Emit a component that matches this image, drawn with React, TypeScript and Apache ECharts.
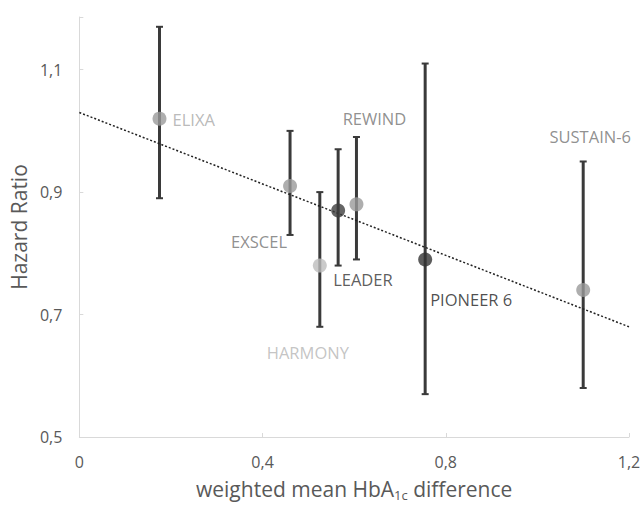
import React, { useEffect, useRef } from "react";
import * as echarts from "echarts";

// Trials: weighted mean HbA1c difference vs hazard ratio (95% CI)
const trials = ["ELIXA", "EXSCEL", "HARMONY", "LEADER", "REWIND", "PIONEER 6", "SUSTAIN-6"];
const hba1cDiff = [0.175, 0.46, 0.525, 0.565, 0.605, 0.755, 1.1];
const hazardRatio = [1.02, 0.91, 0.78, 0.87, 0.88, 0.79, 0.74];
const ciLow = [0.89, 0.83, 0.68, 0.78, 0.79, 0.57, 0.58];
const ciHigh = [1.17, 1.0, 0.9, 0.97, 0.99, 1.11, 0.95];

// Linear trend endpoints
const trendX = [0, 1.2];
const trendY = [1.03, 0.68];

const xTicks = [0, 0.4, 0.8, 1.2];
const yTicks = [0.5, 0.7, 0.9, 1.1];

// Per-trial appearance
const markerColor: Record<string, string> = {
  ELIXA: "#9a9a9a",
  EXSCEL: "#9a9a9a",
  HARMONY: "#bdbdbd",
  LEADER: "#3f3f3f",
  REWIND: "#9a9a9a",
  "PIONEER 6": "#333333",
  "SUSTAIN-6": "#9a9a9a",
};
const labelColor: Record<string, string> = {
  ELIXA: "#a8a8a8",
  EXSCEL: "#737373",
  HARMONY: "#b5b5b5",
  LEADER: "#333333",
  REWIND: "#737373",
  "PIONEER 6": "#1f1f1f",
  "SUSTAIN-6": "#737373",
};
const labelPlace: Record<string, { position: any; offset: number[] }> = {
  ELIXA: { position: "right", offset: [1, 1] },
  EXSCEL: { position: "left", offset: [9, 56] },
  HARMONY: { position: "bottom", offset: [-12, 66] },
  LEADER: { position: "right", offset: [-17, 69] },
  REWIND: { position: "top", offset: [18, -65] },
  "PIONEER 6": { position: "right", offset: [-7, 40] },
  "SUSTAIN-6": { position: "top", offset: [7, -133] },
};

const fmt = (v: number) => (v === 0 ? "0" : v.toFixed(1).replace(".", ","));
const FONT = "'Open Sans', sans-serif";

export default function App() {
  const ref = useRef<HTMLDivElement>(null);

  useEffect(() => {
    if (!ref.current) return;
    const chart = echarts.init(ref.current, null, { renderer: "svg" });

    const errData = trials.map((_, i) => [hba1cDiff[i], ciLow[i], ciHigh[i]]);
    const pointData = trials.map((name, i) => ({
      name,
      value: [hba1cDiff[i], hazardRatio[i]],
      itemStyle: { color: markerColor[name] },
      label: {
        show: true,
        formatter: name,
        color: labelColor[name],
        fontSize: 16.5,
        fontFamily: FONT,
        position: labelPlace[name].position,
        offset: labelPlace[name].offset,
      },
    }));

    chart.setOption({
      animation: false,
      backgroundColor: "#ffffff",
      grid: { left: 79, right: 15, top: 17, bottom: 67 },
      xAxis: {
        type: "value",
        min: 0,
        max: 1.2,
        interval: 0.4,
        name: "weighted mean HbA{sub|1c} difference",
        nameLocation: "middle",
        nameGap: 40,
        nameTextStyle: {
          fontSize: 21,
          color: "#595959",
          fontFamily: FONT,
          rich: {
            sub: { fontSize: 13, color: "#595959", fontFamily: FONT, verticalAlign: "bottom", padding: [11, 0, 0, 0] },
          },
        },
        axisLine: { show: true, lineStyle: { color: "#d9d9d9", width: 1 } },
        axisTick: { show: true, inside: true, length: 4, lineStyle: { color: "#d9d9d9" } },
        splitLine: { show: false },
        axisLabel: {
          margin: 17,
          fontSize: 16,
          color: "#595959",
          fontFamily: FONT,
          formatter: (v: number) => (xTicks.some((t) => Math.abs(t - v) < 1e-9) ? fmt(v) : ""),
        },
      },
      yAxis: {
        type: "value",
        min: 0.5,
        max: 1.186,
        interval: 0.2,
        name: "Hazard Ratio",
        nameLocation: "middle",
        nameGap: 49,
        nameTextStyle: { fontSize: 21, color: "#595959", fontFamily: FONT },
        axisLine: { show: true, lineStyle: { color: "#d9d9d9", width: 1 } },
        axisTick: { show: true, inside: true, length: 4, lineStyle: { color: "#d9d9d9" } },
        splitLine: { show: false },
        axisLabel: {
          margin: 17,
          fontSize: 16,
          color: "#595959",
          fontFamily: FONT,
          formatter: (v: number) => (yTicks.some((t) => Math.abs(t - v) < 1e-9) ? fmt(v) : ""),
        },
      },
      series: [
        {
          type: "custom",
          name: "CI",
          z: 2,
          data: errData,
          renderItem: (_params: any, api: any) => {
            const x = api.value(0);
            const lo = api.coord([x, api.value(1)]);
            const hi = api.coord([x, api.value(2)]);
            const cap = 3.5;
            const style = { stroke: "#3a3a3a", lineWidth: 3 };
            const capStyle = { stroke: "#3a3a3a", lineWidth: 2 };
            return {
              type: "group",
              children: [
                { type: "line", shape: { x1: lo[0], y1: lo[1], x2: hi[0], y2: hi[1] }, style },
                { type: "line", shape: { x1: hi[0] - cap, y1: hi[1], x2: hi[0] + cap, y2: hi[1] }, style: capStyle },
                { type: "line", shape: { x1: lo[0] - cap, y1: lo[1], x2: lo[0] + cap, y2: lo[1] }, style: capStyle },
              ],
            };
          },
        },
        {
          type: "line",
          name: "trend",
          z: 3,
          data: trendX.map((x, i) => [x, trendY[i]]),
          symbol: "none",
          lineStyle: { color: "#222222", width: 1.5, type: [2, 2] },
        },
        {
          type: "scatter",
          name: "HR",
          z: 4,
          symbolSize: 14,
          data: pointData,
        },
      ],
    });

    return () => chart.dispose();
  }, []);

  return (
    <div
      ref={ref}
      style={{ position: "fixed", left: 0, top: 0, width: 644, height: 506, background: "#fff" }}
    />
  );
}
